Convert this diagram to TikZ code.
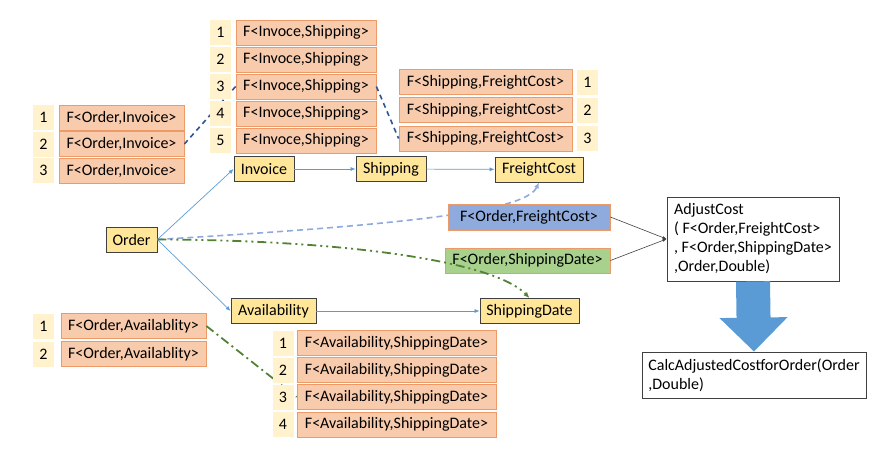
\documentclass[tikz,border=0pt]{standalone}
\usepackage{fontspec}
\setmainfont{Carlito}
\usetikzlibrary{arrows.meta}

\definecolor{salmon}{HTML}{F8CBAD}
\definecolor{salmonline}{HTML}{EB9A68}
\definecolor{cream}{HTML}{FFF2CC}
\definecolor{gold}{HTML}{FFE699}
\definecolor{boxline}{HTML}{404040}
\definecolor{flowblue}{HTML}{5B9BD5}
\definecolor{lightdash}{HTML}{8FAADC}
\definecolor{darkdash}{HTML}{2F5597}
\definecolor{olive}{HTML}{548235}
\definecolor{cardblue}{HTML}{8FAADC}
\definecolor{cardgreen}{HTML}{A9D18E}

\tikzset{
  fbox/.style={draw=salmonline, fill=salmon, line width=0.8pt, minimum height=25pt, inner sep=0pt},
  numcell/.style={fill=cream, minimum width=21pt, minimum height=25pt, inner sep=0pt},
  entity/.style={draw=boxline, fill=gold, line width=0.8pt, minimum height=25pt, inner sep=0pt},
  plainbox/.style={draw=boxline, fill=white, line width=0.8pt, inner sep=0pt, align=left},
  flow/.style={flowblue, line width=0.7pt, -{Latex[length=5pt,width=4pt]}},
  joinlink/.style={boxline, line width=0.6pt, -{Latex[length=4pt,width=3pt]}},
  bluedash/.style={darkdash, line width=1.6pt, dash pattern=on 5pt off 4pt},
  greendash/.style={olive, line width=1.8pt, dash pattern=on 9pt off 4pt on 2pt off 4pt},
  bigarrow/.style={flowblue, line width=34pt, -{Triangle[length=34pt,width=66pt]}}
}

\begin{document}
\begin{tikzpicture}[x=1pt,y=-1pt,font=\fontsize{16}{19}\selectfont]
\useasboundingbox (0,0) rectangle (885,474);

\node[entity, minimum width=51pt] (order) at (131.5,239.5) {Order};
\node[entity, minimum width=60pt] (invoice) at (264,169) {Invoice};
\node[entity, minimum width=70pt] (shipping) at (391,169) {Shipping};
\node[entity, minimum width=88pt] (freight) at (539,169.5) {FreightCost};
\node[entity, minimum width=85pt] (avail) at (273.5,311) {Availability};
\node[entity, minimum width=99pt] (shipdate) at (529.5,311) {ShippingDate};

\foreach \i/\y in {1/117.5,2/144,3/170.5}
  \node[fbox, minimum width=125pt] (oi\i) at (121.5,\y) {F<Order,Invoice>};
\foreach \i/\y in {1/32.5,2/59.5,3/86.5,4/113.5,5/140.5}
  \node[fbox, minimum width=140pt] (is\i) at (306,\y) {F<Invoce,Shipping>};
\foreach \i/\y in {1/82,2/110,3/138.5}
  \node[fbox, minimum width=173pt] (sf\i) at (485.5,\y) {F<Shipping,FreightCost>};
\foreach \i/\y in {1/326,2/354}
  \node[fbox, minimum width=145pt] (oa\i) at (133.5,\y) {F<Order,Availablity>};
\foreach \i/\y in {1/343,2/370,3/397,4/424.5}
  \node[fbox, minimum width=199pt] (as\i) at (396.5,\y) {F<Availability,ShippingDate>};

\draw[flow] (order.east) -- (invoice.west);
\draw[flow] (order.east) -- (avail.west);
\draw[flow] (invoice) -- (shipping);
\draw[flow] (shipping) -- (freight);
\draw[flow] (avail) -- (shipdate);

\draw[bluedash] (oi2.east) -- (is3.west);
\draw[bluedash] (is3.east) -- (sf3.west);
\draw[greendash] (oa1.east) -- (as3.west);

\foreach \i/\y in {1/117.5,2/144,3/170.5}
  \node[numcell] (noi\i) at (43.5,\y) {\i};
\foreach \i/\y in {1/32.5,2/59.5,3/86.5,4/113.5,5/140.5}
  \node[numcell] (nis\i) at (220.5,\y) {\i};
\foreach \i/\y in {1/82,2/110,3/138.5}
  \node[numcell] (nsf\i) at (587.5,\y) {\i};
\foreach \i/\y in {1/326,2/354}
  \node[numcell] (noa\i) at (43.5,\y) {\i};
\foreach \i/\y in {1/343,2/370,3/397,4/424.5}
  \node[numcell] (nas\i) at (283,\y) {\i};

\draw[lightdash, line width=1.6pt, dash pattern=on 6pt off 4pt, -{Latex[length=6pt,width=5pt]}]
  (order.east) .. controls (400,225) and (525,212) .. (freight.south);
\node[fbox, fill=cardblue, minimum width=162pt, minimum height=26pt] (ofc) at (529,217) {F<Order,FreightCost>};
\node[fbox, fill=cardgreen, minimum width=165pt] (osd) at (527.5,260.5) {F<Order,ShippingDate>};
\draw[olive, line width=1.8pt, dash pattern=on 9pt off 4pt on 2pt off 4pt on 2pt off 4pt, -{Latex[length=6pt,width=5pt]}]
  (order.east) .. controls (350,240) and (495,262) .. (shipdate.north);

\node[plainbox, minimum width=172pt, minimum height=84pt] (adj) at (753,239)
  {AdjustCost\\( F<Order,FreightCost>\\, F<Order,ShippingDate>\\,Order,Double)};
\node[plainbox, minimum width=224pt, minimum height=46pt] (calc) at (754,375)
  {CalcAdjustedCostforOrder(Order\\,Double)};

\draw[joinlink] (ofc.east) -- (adj.west);
\draw[joinlink] (osd.east) -- (adj.west);
\draw[bigarrow] (adj.south) -- (calc.north);
\end{tikzpicture}
\end{document}
